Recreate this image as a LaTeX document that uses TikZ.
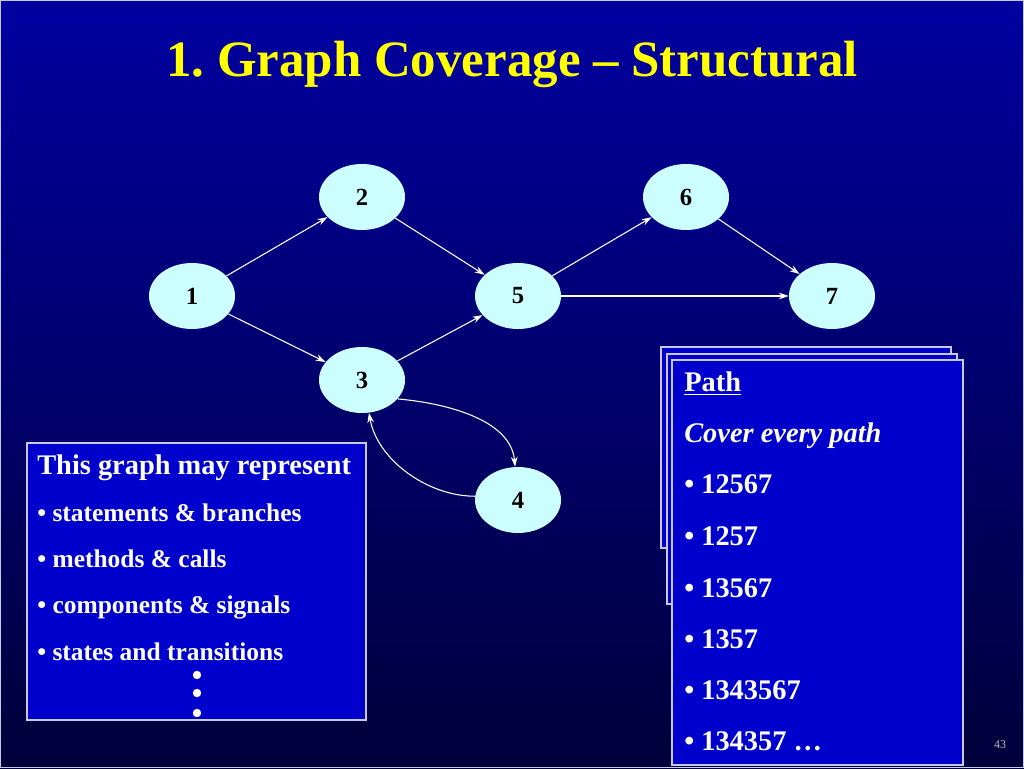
\documentclass[tikz,border=0pt]{standalone}
\usepackage{fontspec}
\setmainfont{Liberation Serif}
\usetikzlibrary{arrows.meta,shapes.geometric}
\definecolor{slidetop}{HTML}{0000A0}
\definecolor{slidebot}{HTML}{00003A}
\definecolor{panel}{HTML}{0000CC}
\definecolor{frame}{HTML}{C8C8E8}
\definecolor{vertex}{HTML}{CCFFFF}
\definecolor{headline}{HTML}{FFFF00}
\definecolor{pageno}{HTML}{B8B8CC}
\newcommand{\ttl}{\fontsize{38.2}{46}\selectfont\bfseries}
\newcommand{\txt}{\fontsize{21.3}{26}\selectfont\bfseries}
\newcommand{\sml}{\fontsize{19.1}{23}\selectfont\bfseries}
\newcommand{\vlbl}{\fontsize{18.5}{22}\selectfont\bfseries}
\newcommand{\pgno}{\fontsize{9}{11}\selectfont}
\begin{document}
\begin{tikzpicture}[x=0.75pt,y=0.75pt,
  vtx/.style={ellipse,fill=vertex,minimum width=64.5pt,minimum height=49.5pt,inner sep=0,font=\vlbl,text=black},
  flow/.style={draw=white,line width=0.8pt,-{Stealth[length=7.5pt,width=5pt]}},
  card/.style={draw=frame,fill=panel,line width=1.1pt},
  line/.style={anchor=base west,inner sep=0,text=white,font=\txt},
  item/.style={line,font=\sml}]
\useasboundingbox (0,0) rectangle (1024,768);
\shade[top color=slidetop,bottom color=slidebot] (0,0) rectangle (1024,768);
\draw[frame,line width=1pt] (0.7,0.7) rectangle (1023.3,767.3);
\node[anchor=base,inner sep=0,text=headline,font=\ttl] (title) at (512,691) {1.\ Graph Coverage -- Structural};
\node[vtx] (n1) at (192,472) {1};
\node[vtx] (n2) at (362,571) {2};
\node[vtx] (n3) at (362,388) {3};
\node[vtx] (n4) at (518,268) {4};
\node[vtx] (n5) at (518,472) {5};
\node[vtx] (n6) at (686,571) {6};
\node[vtx] (n7) at (832,472) {7};
\draw[flow] (n1) -- (n2);
\draw[flow] (n2) -- (n5);
\draw[flow] (n1) -- (n3);
\draw[flow] (n3) -- (n5);
\draw[flow] (n5) -- (n6);
\draw[flow] (n6) -- (n7);
\draw[flow] (n5) -- (n7);
\draw[flow] (n3.-28) to[out=-5,in=95,looseness=0.9] (n4.95);
\draw[flow] (n4.175) to[out=180,in=-80,looseness=0.9] (n3.-78);
\draw[card] (27,48) rectangle (366,325);
\node[line] (rep) at (37,293) {This graph may represent};
\node[item] (rep1) at (37,247) {• statements \& branches};
\node[item] (rep2) at (37,201) {• methods \& calls};
\node[item] (rep3) at (37,155) {• components \& signals};
\node[item] (rep4) at (37,108) {• states and transitions};
\foreach \dy in {93,75,55}
  \fill[white] (197,\dy) circle (4.2);
\draw[card] (661,220) rectangle (951,421);
\draw[card] (667,164) rectangle (957,414);
\draw[card] (672,3) rectangle (963,408);
\node[line] (path) at (684,376) {\underline{Path}};
\node[line,font=\txt\itshape] (cover) at (684,325) {Cover every path};
\node[line] (p1) at (684,274) {• 12567};
\node[line] (p2) at (684,223) {• 1257};
\node[line] (p3) at (684,171) {• 13567};
\node[line] (p4) at (684,120) {• 1357};
\node[line] (p5) at (684,69) {• 1343567};
\node[line] (p6) at (684,18) {• 134357 …};
\node[inner sep=0,text=pageno,font=\pgno] (page) at (1000,23) {43};
\end{tikzpicture}
\end{document}
